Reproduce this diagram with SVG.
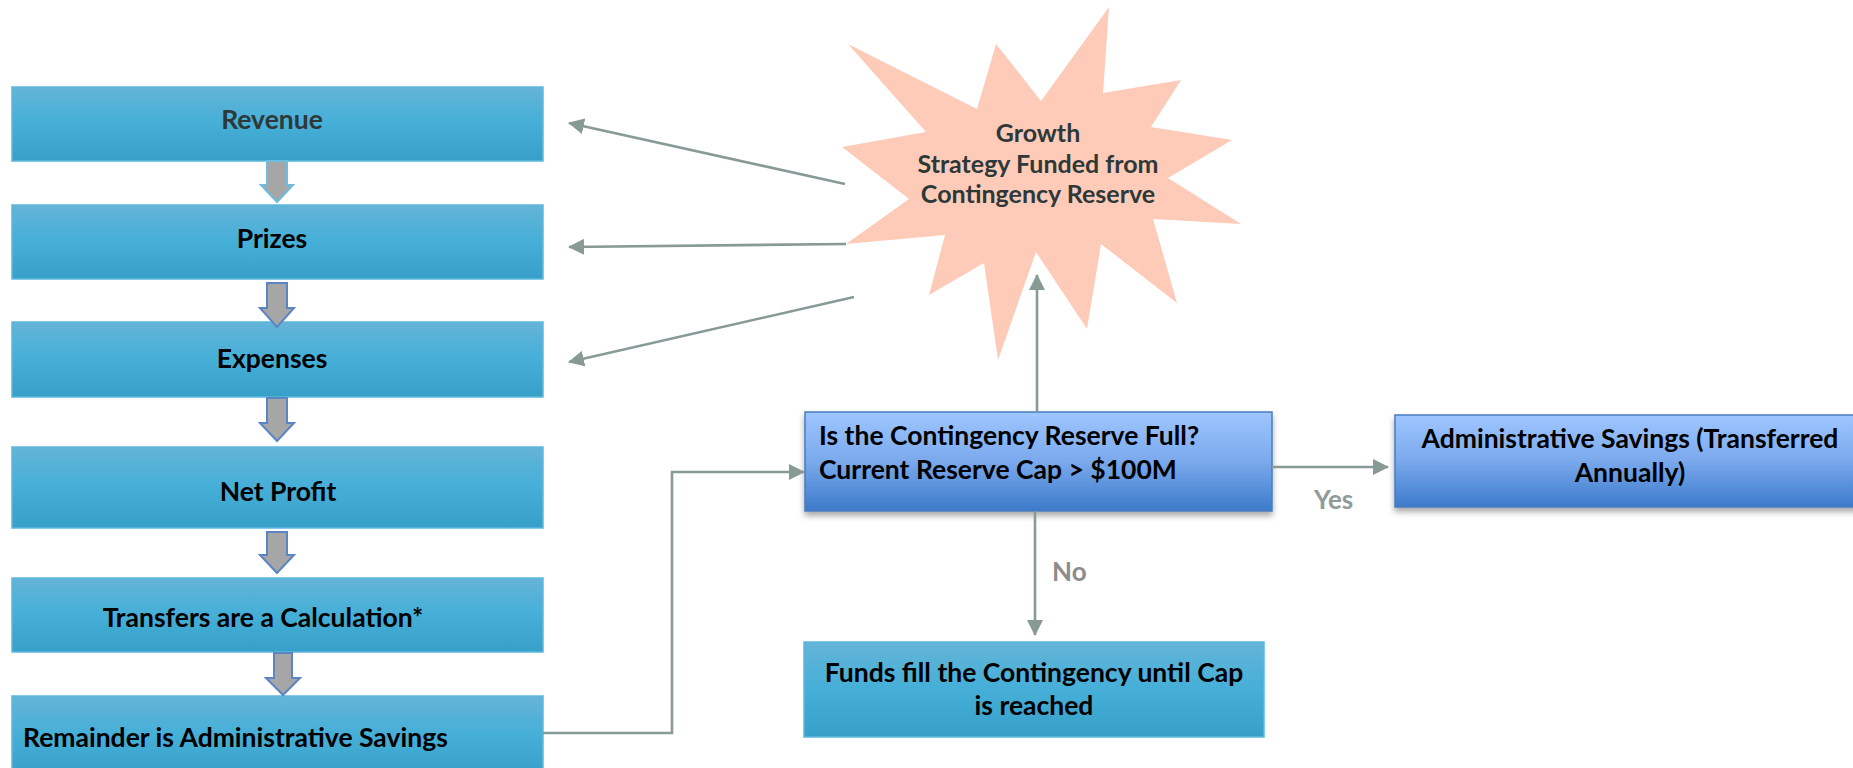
<svg xmlns="http://www.w3.org/2000/svg" width="1853" height="768" viewBox="0 0 1853 768">
<style>
.t{font-family:Lato,"Open Sans","Liberation Sans",sans-serif;font-weight:bold;font-size:26.5px;fill:#000}
.tc{text-anchor:middle}
.dk{fill:#2e3838}
.st{font-size:25px}
.lbl{font-family:Lato,"Open Sans","Liberation Sans",sans-serif;font-weight:bold;font-size:26px;fill:#8e9c9a}
.teal{fill:url(#gTeal);stroke:#5cb8dd;stroke-width:1.5}
.blue{fill:url(#gBlue);stroke:#4a7cc0;stroke-width:1.5;filter:url(#sh)}
.blk{fill:#a6a6a6;stroke:#5b85c4;stroke-width:2}
.con{fill:none;stroke:#889a96;stroke-width:2.6}
</style>
<defs>
<linearGradient id="gTeal" x1="0" y1="0" x2="0" y2="1">
<stop offset="0" stop-color="#64b4d7"/>
<stop offset="0.5" stop-color="#45afd8"/>
<stop offset="1" stop-color="#36a0c8"/>
</linearGradient>
<linearGradient id="gBlue" x1="0" y1="0" x2="0" y2="1">
<stop offset="0" stop-color="#9fc6ff"/>
<stop offset="0.5" stop-color="#7aa9ec"/>
<stop offset="1" stop-color="#3c7bcb"/>
</linearGradient>
<filter id="sh" x="-5%" y="-10%" width="110%" height="130%">
<feGaussianBlur in="SourceAlpha" stdDeviation="3"/>
<feOffset dx="0" dy="4" result="b"/>
<feComponentTransfer><feFuncA type="linear" slope="0.35"/></feComponentTransfer>
<feMerge><feMergeNode/><feMergeNode in="SourceGraphic"/></feMerge>
</filter>
<marker id="ah" markerUnits="userSpaceOnUse" markerWidth="16" markerHeight="16" viewBox="0 0 16 16" refX="15" refY="8" orient="auto">
<path d="M0,0 L16,8 L0,16 Z" fill="#889a96"/>
</marker>
</defs>

<g id="revenue">
<rect class="teal" x="12" y="87" width="531" height="74"/>
<text class="t tc dk" x="272" y="129">Revenue</text>
</g>
<g id="prizes">
<rect class="teal" x="12" y="205" width="531" height="74"/>
<text class="t tc" x="272" y="248">Prizes</text>
</g>
<g id="expenses">
<rect class="teal" x="12" y="322" width="531" height="75"/>
<text class="t tc" x="272" y="368">Expenses</text>
</g>
<g id="net-profit">
<rect class="teal" x="12" y="447" width="531" height="81"/>
<text class="t tc" x="278" y="501">Net Profit</text>
</g>
<g id="transfers">
<rect class="teal" x="12" y="578" width="531" height="74"/>
<text class="t tc" x="263" y="627">Transfers are a Calculation*</text>
</g>
<g id="remainder">
<rect class="teal" x="12" y="696" width="531" height="80"/>
<text class="t" x="23" y="747">Remainder is Administrative Savings</text>
</g>

<g id="flow-arrows">
<path class="blk" style="stroke:#6cbde0" d="M267,161 L287,161 L287,185 L293,185 L277,202 L261,185 L267,185 Z"/>
<path class="blk" d="M267,283 L287,283 L287,308 L294,308 L277,327 L260,308 L267,308 Z"/>
<path class="blk" d="M267,398 L287,398 L287,423 L294,423 L277,441 L260,423 L267,423 Z"/>
<path class="blk" d="M267,532 L287,532 L287,555 L294,555 L277,573 L260,555 L267,555 Z"/>
<path class="blk" d="M274,653 L292,653 L292,678 L300,678 L283,695 L266,678 L274,678 Z"/>
</g>

<g id="growth-strategy">
<polygon fill="#fdcbb8" points="848,44 977,109 996,44 1041,101 1109,7 1103,93 1181,80 1151,127 1232,140 1168,178 1241,224 1153,219 1177,303 1101,244 1087,329 1036,252 998,360 984,263 929,295 945,235 846,244 909,199 842,147 926,132"/>
<text class="t tc dk st" x="1038" y="142">Growth</text>
<text class="t tc dk st" x="1038" y="173">Strategy Funded from</text>
<text class="t tc dk st" x="1038" y="203">Contingency Reserve</text>
</g>

<g id="decision">
<rect class="blue" x="805" y="412" width="467" height="99"/>
<text class="t" x="819" y="445">Is the Contingency Reserve Full?</text>
<text class="t" x="819" y="479">Current Reserve Cap &gt; $100M</text>
</g>

<g id="admin-savings">
<rect class="blue" x="1395" y="415" width="480" height="92"/>
<text class="t tc" x="1630" y="448">Administrative Savings (Transferred</text>
<text class="t tc" x="1630" y="482">Annually)</text>
</g>

<g id="funds-fill">
<rect class="teal" x="804" y="642" width="460" height="95"/>
<text class="t tc" x="1034" y="682">Funds fill the Contingency until Cap</text>
<text class="t tc" x="1034" y="715">is reached</text>
</g>

<g id="connectors">
<line class="con" x1="845" y1="184" x2="569" y2="123" marker-end="url(#ah)"/>
<line class="con" x1="846" y1="244" x2="569" y2="247" marker-end="url(#ah)"/>
<line class="con" x1="854" y1="297" x2="569" y2="362" marker-end="url(#ah)"/>
<line class="con" x1="1037" y1="412" x2="1037" y2="275" marker-end="url(#ah)"/>
<polyline class="con" points="543,733 672,733 672,472 804,472" marker-end="url(#ah)"/>
<line class="con" x1="1272" y1="467" x2="1388" y2="467" marker-end="url(#ah)"/>
<line class="con" x1="1035" y1="511" x2="1035" y2="635" marker-end="url(#ah)"/>
<text class="lbl" x="1314" y="509">Yes</text>
<text class="lbl" x="1052" y="581" style="fill:#8c8c8c">No</text>
</g>
</svg>
